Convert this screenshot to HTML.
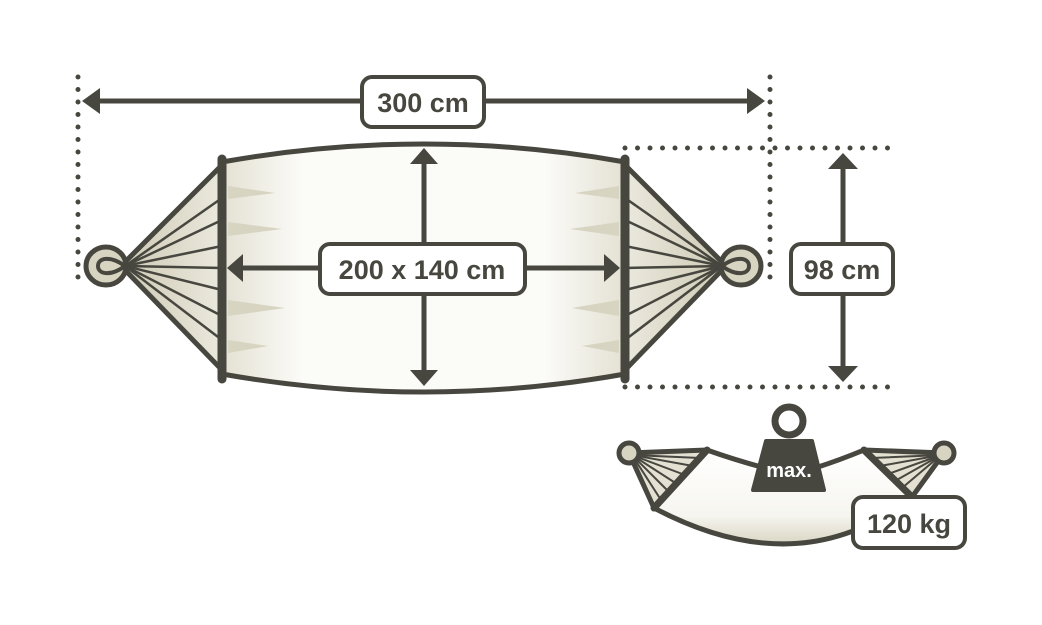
<!DOCTYPE html>
<html><head><meta charset="utf-8"><style>
html,body{margin:0;padding:0;background:#fff;}
svg{display:block;}
text{font-family:"Liberation Sans",sans-serif;font-weight:bold;fill:#474740;}
</style></head><body>
<svg width="1042" height="625" viewBox="0 0 1042 625" xmlns="http://www.w3.org/2000/svg">
<defs>
<linearGradient id="fab" x1="0" x2="1" y1="0" y2="0">
<stop offset="0" stop-color="#e4e1d3"/><stop offset="0.2" stop-color="#fbfbf8"/><stop offset="0.8" stop-color="#fbfbf8"/><stop offset="1" stop-color="#e4e1d3"/></linearGradient>
<linearGradient id="fanL" x1="0" x2="1"><stop offset="0" stop-color="#cfcbb6"/><stop offset="1" stop-color="#ebe9de"/></linearGradient>
<linearGradient id="fanR" x1="1" x2="0"><stop offset="0" stop-color="#cfcbb6"/><stop offset="1" stop-color="#ebe9de"/></linearGradient>
<linearGradient id="sfab" x1="0" x2="0" y1="0" y2="1"><stop offset="0" stop-color="#fff"/><stop offset="0.7" stop-color="#f6f5ef"/><stop offset="1" stop-color="#d9d6c4"/></linearGradient>
</defs>
<g stroke="#474740" fill="none" stroke-linecap="round">
<line x1="78" y1="77" x2="78" y2="284" stroke-width="5" stroke-dasharray="0 12.5"/>
<line x1="770" y1="77" x2="770" y2="284" stroke-width="5" stroke-dasharray="0 12.5"/>
<line x1="625" y1="148" x2="893" y2="148" stroke-width="5" stroke-dasharray="0 12.5"/>
<line x1="625" y1="387" x2="893" y2="387" stroke-width="5" stroke-dasharray="0 12.5"/>

<path d="M222 162 Q424 126 625 162 L625 374 Q424 410 222 374 Z" fill="url(#fab)" stroke-width="5"/>
<g fill="#d7d4c2" stroke="none">
<path d="M228 186 L275 193 L228 199Z"/><path d="M228 222 L282 229 L228 236Z"/><path d="M228 300 L285 308 L228 316Z"/><path d="M228 340 L268 346 L228 353Z"/>
<path d="M619 186 L575 193 L619 199Z"/><path d="M619 222 L570 229 L619 236Z"/><path d="M619 300 L572 308 L619 316Z"/><path d="M619 340 L582 346 L619 353Z"/>
</g>

<path d="M222 165 L125 262 L125 270 L222 370 Z" fill="url(#fanL)" stroke-width="5" stroke-linejoin="round"/>
<ellipse cx="106" cy="266" rx="20" ry="19" fill="#d7d4c2" stroke-width="5"/>
<path d="M125 266 C110 255 98 258 98 266 C98 274 110 277 125 266" stroke-width="4"/>
<g stroke-width="2.5">
<line x1="125" y1="266" x2="222" y2="198"/><line x1="125" y1="266" x2="222" y2="220"/><line x1="125" y1="266" x2="222" y2="246"/><line x1="125" y1="266" x2="222" y2="268"/><line x1="125" y1="266" x2="222" y2="290"/><line x1="125" y1="266" x2="222" y2="316"/><line x1="125" y1="266" x2="222" y2="340"/>
</g>
<path d="M625 165 L722 262 L722 270 L625 370 Z" fill="url(#fanR)" stroke-width="5" stroke-linejoin="round"/>
<ellipse cx="741" cy="266" rx="20" ry="19" fill="#d7d4c2" stroke-width="5"/>
<path d="M722 266 C737 255 749 258 749 266 C749 274 737 277 722 266" stroke-width="4"/>
<g stroke-width="2.5">
<line x1="722" y1="266" x2="625" y2="198"/><line x1="722" y1="266" x2="625" y2="220"/><line x1="722" y1="266" x2="625" y2="246"/><line x1="722" y1="266" x2="625" y2="268"/><line x1="722" y1="266" x2="625" y2="290"/><line x1="722" y1="266" x2="625" y2="316"/><line x1="722" y1="266" x2="625" y2="340"/>
</g>
<line x1="222" y1="159" x2="222" y2="379" stroke-width="9"/>
<line x1="625" y1="159" x2="625" y2="379" stroke-width="9"/>

<line x1="95" y1="101" x2="752" y2="101" stroke-width="5"/>
<line x1="424" y1="162" x2="424" y2="372" stroke-width="5"/>
<line x1="240" y1="268" x2="607" y2="268" stroke-width="5"/>
<line x1="843" y1="166" x2="843" y2="370" stroke-width="5"/>
</g>
<g fill="#474740">
<path d="M82 101 L100 88 L100 114Z"/><path d="M765 101 L747 88 L747 114Z"/>
<path d="M424 148 L410 164 L438 164Z"/><path d="M424 386 L410 370 L438 370Z"/>
<path d="M227 268 L243 254 L243 282Z"/><path d="M620 268 L604 254 L604 282Z"/>
<path d="M843 153 L828 169 L858 169Z"/><path d="M843 382 L828 366 L858 366Z"/>
</g>

<g fill="#fff" stroke="#474740" stroke-width="4">
<rect x="362" y="77" width="122" height="50" rx="10"/>
<rect x="320" y="244" width="205" height="50" rx="10"/>
<rect x="791" y="244" width="102" height="50" rx="10"/>
</g>
<text x="423" y="112" font-size="27" text-anchor="middle">300 cm</text>
<text x="422" y="279" font-size="27" text-anchor="middle">200 x 140 cm</text>
<text x="842" y="279" font-size="27" text-anchor="middle">98 cm</text>

<g stroke="#474740" fill="none" stroke-linecap="round" stroke-linejoin="round">
<path d="M707 450 Q735 460 765 468 L815 468 Q840 460 864 450 L912 497 Q800 585 654 508 Z" fill="url(#sfab)" stroke-width="5"/>
<path d="M629 453 L707 450 L654 508 Z" fill="#e4e1d3" stroke-width="5"/>
<path d="M944 453 L864 450 L912 497 Z" fill="#e4e1d3" stroke-width="5"/>
<g stroke-width="2">
<line x1="632" y1="455" x2="700" y2="458"/><line x1="632" y1="455" x2="693" y2="466"/><line x1="632" y1="455" x2="685" y2="475"/><line x1="632" y1="455" x2="677" y2="484"/><line x1="632" y1="455" x2="669" y2="492"/><line x1="632" y1="455" x2="661" y2="500"/>
<line x1="941" y1="455" x2="872" y2="458"/><line x1="941" y1="455" x2="880" y2="466"/><line x1="941" y1="455" x2="888" y2="474"/><line x1="941" y1="455" x2="895" y2="481"/><line x1="941" y1="455" x2="902" y2="488"/>
</g>
<line x1="707" y1="450" x2="654" y2="508" stroke-width="7"/>
<line x1="864" y1="450" x2="912" y2="497" stroke-width="7"/>
<circle cx="629" cy="453" r="10" fill="#d7d4c2" stroke-width="5"/>
<circle cx="944" cy="453" r="10" fill="#d7d4c2" stroke-width="5"/>
<circle cx="789" cy="421" r="14" stroke-width="7"/>
</g>
<path d="M766 441 L812 441 L824 490 L753 490 Z" fill="#474740" stroke="#474740" stroke-width="4" stroke-linejoin="round"/>
<text x="789" y="477" font-size="20" text-anchor="middle" style="fill:#fff">max.</text>
<rect x="853" y="497" width="112" height="51" rx="10" fill="#fff" stroke="#474740" stroke-width="4"/>
<text x="909" y="533" font-size="27" text-anchor="middle">120 kg</text>
</svg>
</body></html>
